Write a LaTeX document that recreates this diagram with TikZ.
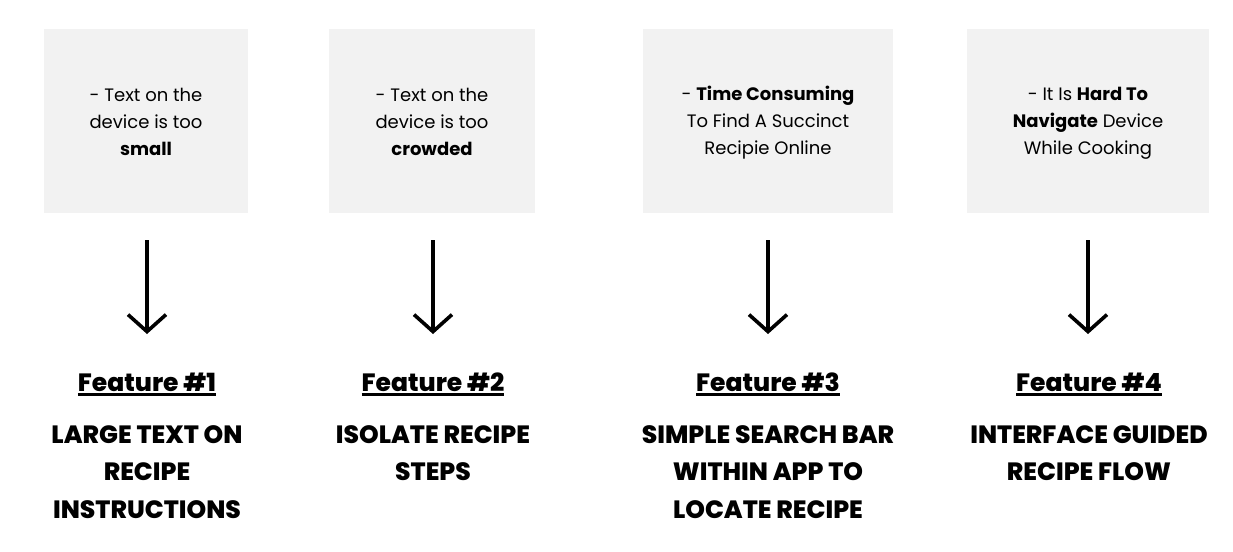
\documentclass[tikz,border=0pt]{standalone}
\usepackage{fontspec}
\setmainfont{Poppins}
\newfontfamily\heavyfont{Poppins ExtraBold}
\usetikzlibrary{arrows.meta}
\definecolor{boxgray}{HTML}{F2F2F2}
\newcommand\featul[1]{\setbox0\hbox{#1}\leavevmode\rlap{\rule[-4.5pt]{\wd0}{2.6pt}}\box0}
\tikzset{
  painbox/.style={fill=boxgray, draw=none},
  paintext/.style={align=center, inner sep=0pt, font=\fontsize{18}{27}\selectfont},
  downarrow/.style={line width=3.6pt, -{Straight Barb[length=17pt,width=38pt,line width=3.6pt]}},
  feathead/.style={inner sep=0pt, font=\heavyfont\fontsize{25}{30}\selectfont},
  feattitle/.style={align=center, inner sep=0pt, anchor=north, font=\heavyfont\fontsize{25}{37.5}\selectfont},
}
\begin{document}
\begin{tikzpicture}[x=1pt,y=-1pt]
\useasboundingbox (0,0) rectangle (1233,551);
% boxes
\fill[painbox] (44,29) rectangle (248,213);
\fill[painbox] (329,29) rectangle (535,213);
\fill[painbox] (643,29) rectangle (893,213);
\fill[painbox] (967,29) rectangle (1209,213);
\node[paintext] (p1) at (146,122) {- Text on the\\device is too\\\textbf{small}};
\node[paintext] (p2) at (432,122) {- Text on the\\device is too\\\textbf{crowded}};
\node[paintext] (p3) at (768,123) {- \textbf{Time Consuming}\\To Find A Succinct\\Recipie Online};
\node[paintext] (p4) at (1088,123) {- It Is \textbf{Hard To}\\\textbf{Navigate} Device\\While Cooking};
% arrow end points
\coordinate (a1s) at (147,240); \coordinate (a1e) at (147,334);
\coordinate (a2s) at (433,240); \coordinate (a2e) at (433,334);
\coordinate (a3s) at (768,240); \coordinate (a3e) at (768,334);
\coordinate (a4s) at (1088,240); \coordinate (a4e) at (1088,334);
\draw[downarrow] (a1s) -- (a1e);
\draw[downarrow] (a2s) -- (a2e);
\draw[downarrow] (a3s) -- (a3e);
\draw[downarrow] (a4s) -- (a4e);
% headings
\node[feathead] (h1) at (147,384) {\featul{Feature \#1}};
\node[feathead] (h2) at (433,384) {\featul{Feature \#2}};
\node[feathead] (h3) at (768,384) {\featul{Feature \#3}};
\node[feathead] (h4) at (1089,384) {\featul{Feature \#4}};
% titles
\node[feattitle] (t1) at (147,425) {LARGE TEXT ON\\RECIPE\\INSTRUCTIONS};
\node[feattitle] (t2) at (433,425) {ISOLATE RECIPE\\STEPS};
\node[feattitle] (t3) at (768,425) {SIMPLE SEARCH BAR\\WITHIN APP TO\\LOCATE RECIPE};
\node[feattitle] (t4) at (1089,425) {INTERFACE GUIDED\\RECIPE FLOW};
\end{tikzpicture}
\end{document}
